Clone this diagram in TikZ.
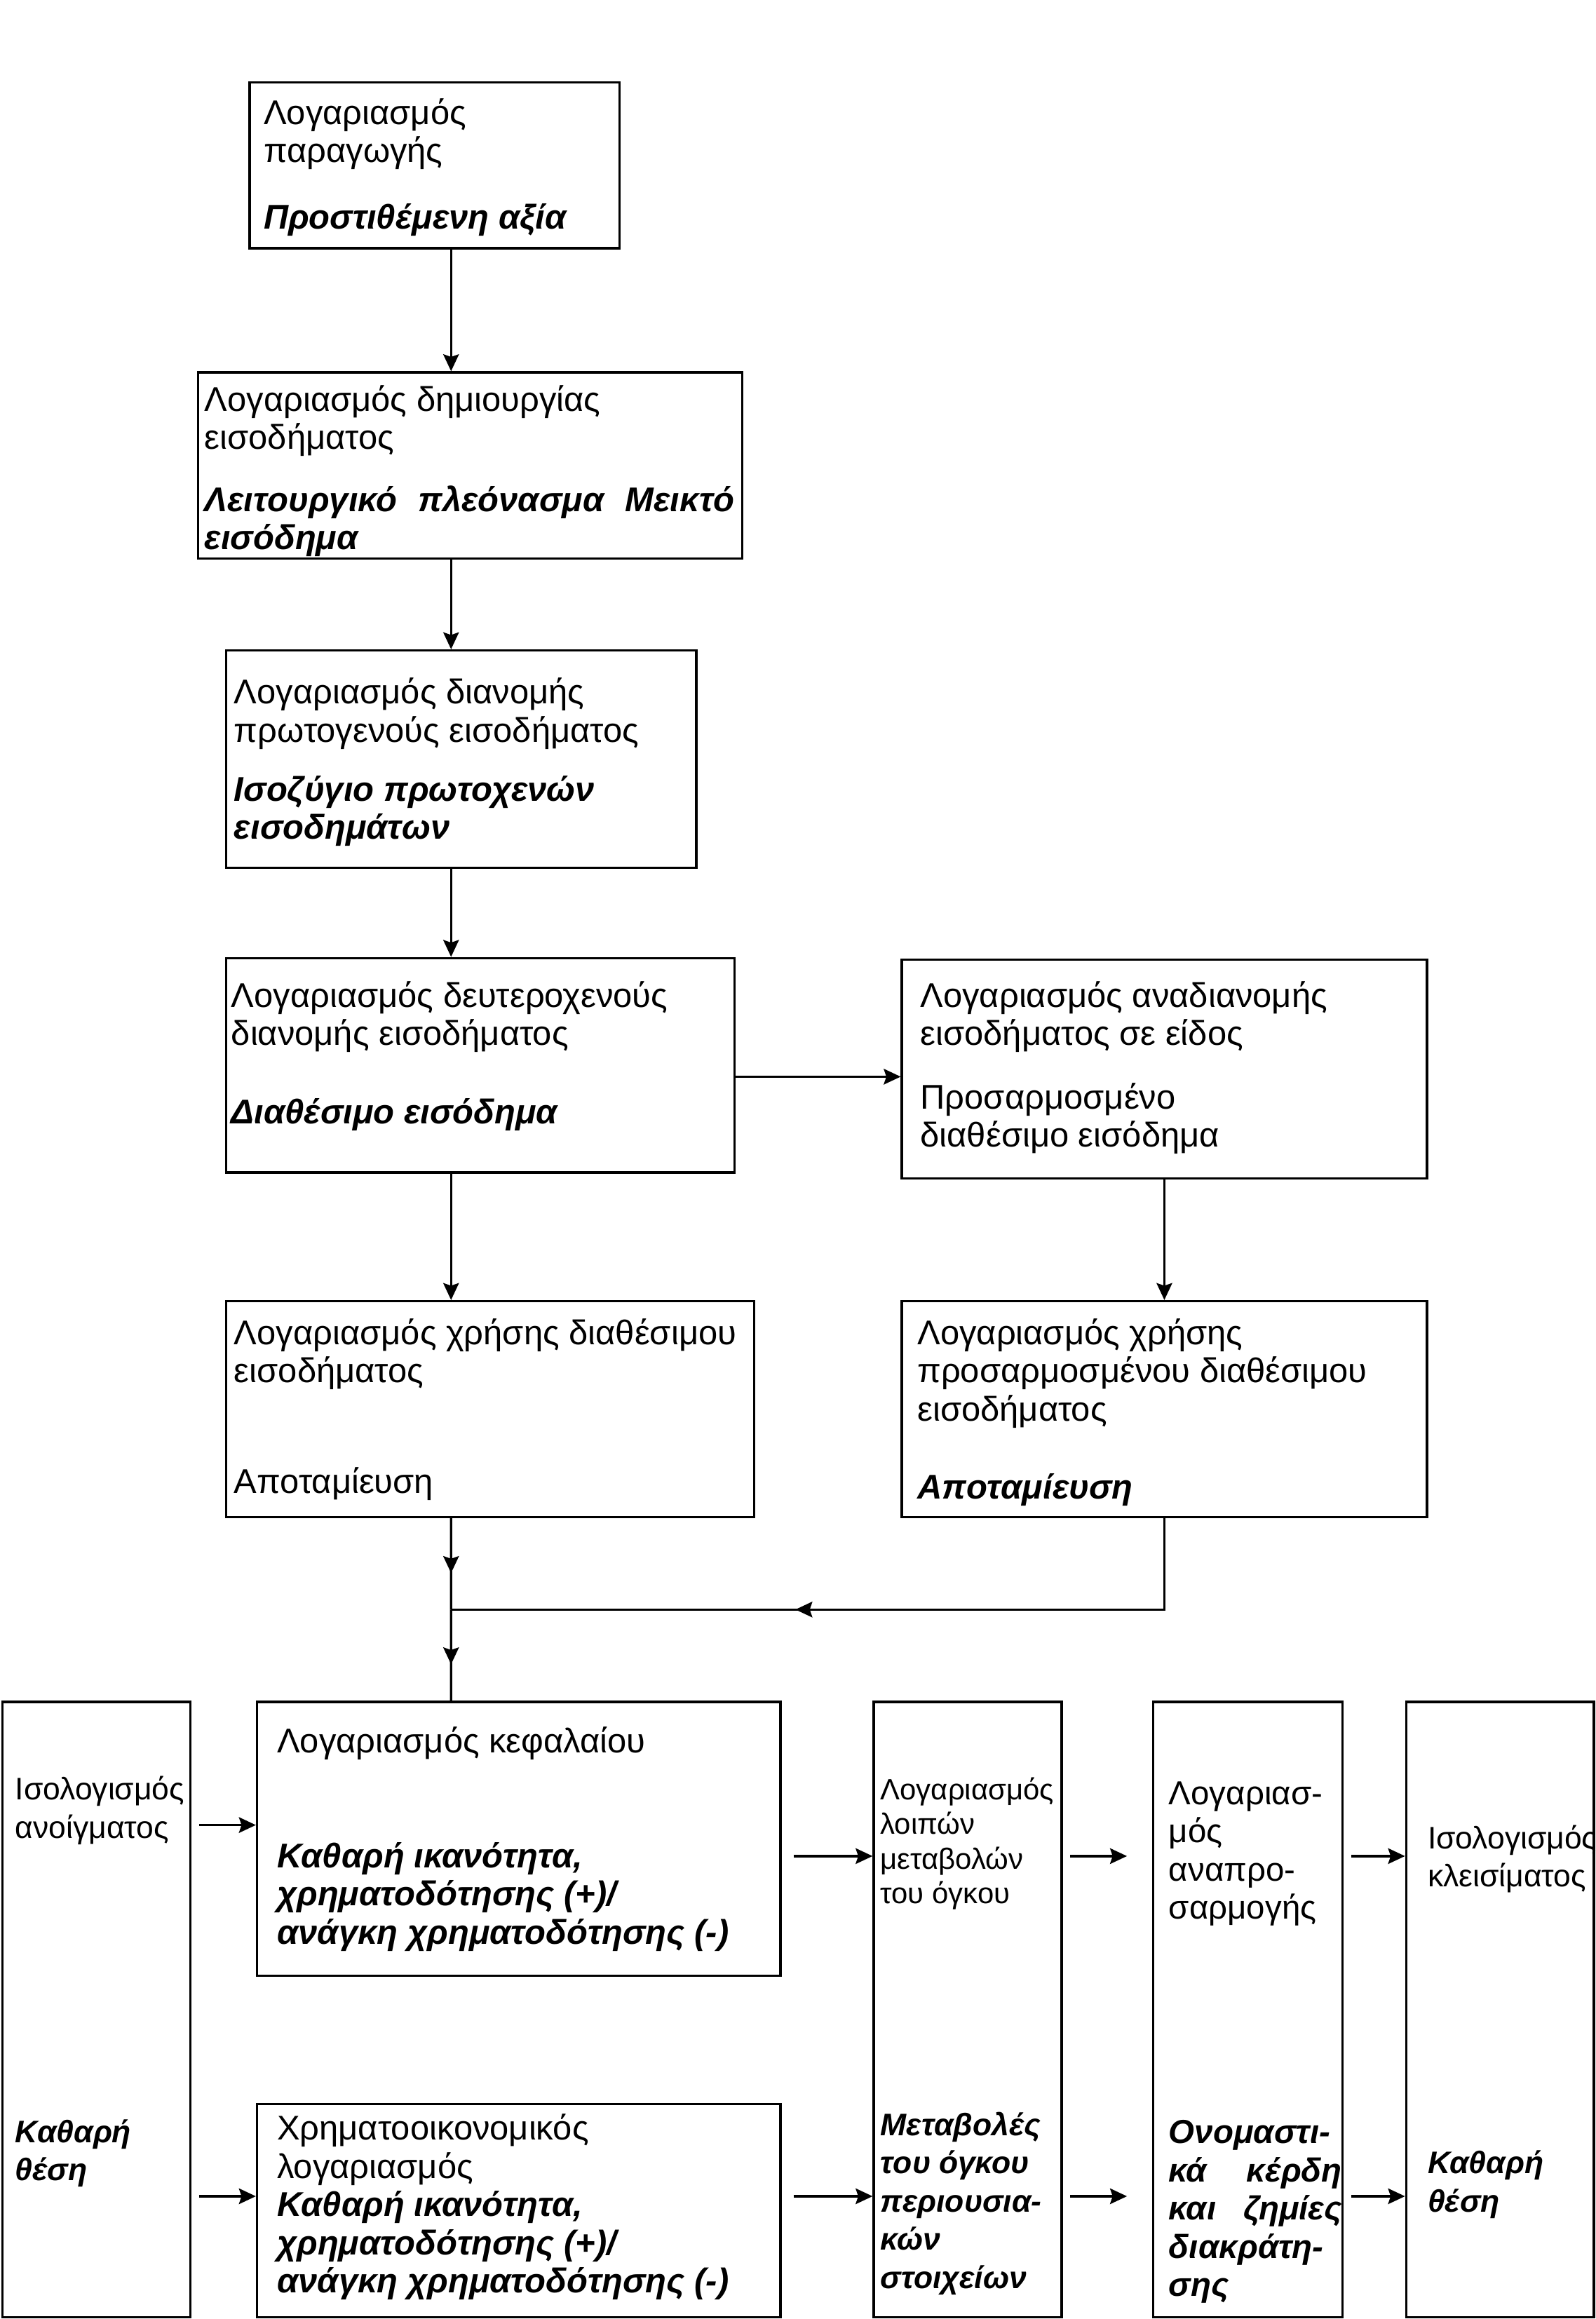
\documentclass[tikz,border=0pt]{standalone}
\usepackage{fontspec}
\setmainfont{Liberation Sans}
\usetikzlibrary{arrows.meta, calc, decorations.markings}

\newcommand{\balitem}[1]{\textbf{\textit{#1}}}
\newcommand{\smalltxt}{\fontsize{11.3}{14.7}\selectfont}

\begin{document}
\begin{tikzpicture}[
    >={Stealth[length=6.5pt, width=6pt, inset=1pt]},
    every node/.style={font=\fontsize{13.2}{14.7}\selectfont},
    account/.style={draw, line width=0.9pt, inner sep=0pt, anchor=north west},
    acc text/.style={anchor=base west, inner sep=0pt, align=justify},
    narrow/.style={font=\fontsize{12}{14.7}\selectfont},
    flow/.style={->, line width=0.9pt},
    mid arrow/.style={line width=0.9pt, postaction={decorate},
        decoration={markings, mark=at position #1 with {\arrow{>}}}}
]

    \useasboundingbox (0,0) rectangle (21.58,-31.36);

    % --- 1. CURRENT ACCOUNTS (LEFT COLUMN) ---
    \node[account, minimum width=5.00cm, minimum height=2.24cm] (prod) at (3.36,-1.10) {};
    \node[account, minimum width=7.36cm, minimum height=2.52cm] (gen) at (2.66,-5.02) {};
    \node[account, minimum width=6.36cm, minimum height=2.94cm] (prim) at (3.04,-8.78) {};
    \node[account, minimum width=6.88cm, minimum height=2.90cm] (sec) at (3.04,-12.94) {};
    \node[account, minimum width=7.14cm, minimum height=2.92cm] (use) at (3.04,-17.58) {};

    % --- 2. ADJUSTED INCOME (RIGHT COLUMN) ---
    \node[account, minimum width=7.10cm, minimum height=2.96cm] (kind) at (12.18,-12.96) {};
    \node[account, minimum width=7.10cm, minimum height=2.92cm] (adjuse) at (12.18,-17.58) {};

    % --- 3. ACCUMULATION AND BALANCE SHEETS (BOTTOM ROW) ---
    \node[account, minimum width=2.54cm, minimum height=8.32cm] (open) at (0.02,-23.00) {};
    \node[account, minimum width=7.08cm, minimum height=3.70cm] (cap) at (3.46,-23.00) {};
    \node[account, minimum width=7.08cm, minimum height=2.88cm] (fin) at (3.46,-28.44) {};
    \node[account, minimum width=2.54cm, minimum height=8.32cm] (other) at (11.80,-23.00) {};
    \node[account, minimum width=2.56cm, minimum height=8.32cm] (reval) at (15.58,-23.00) {};
    \node[account, minimum width=2.54cm, minimum height=8.32cm] (close) at (19.00,-23.00) {};

    % --- 4. TEXTS ---
    \node[acc text, text width=8cm] (prodT) at ([shift={(0.20,-0.58)}]prod.north west)
        {Λογαριασμός\\παραγωγής\\[0.38cm]\balitem{Προστιθέμενη αξία}};
    \node[acc text, text width=7.16cm] (genT) at ([shift={(0.10,-0.54)}]gen.north west)
        {Λογαριασμός δημιουργίας\\εισοδήματος\\[0.32cm]\balitem{Λειτουργικό\hfill πλεόνασμα\hfill Μεικτό\\εισόδημα}};
    \node[acc text, text width=8cm] (primT) at ([shift={(0.12,-0.74)}]prim.north west)
        {Λογαριασμός διανομής\\πρωτογενούς εισοδήματος\\[0.28cm]\balitem{Ισοζύγιο πρωτοχενών\\εισοδημάτων}};
    \node[acc text, text width=8cm] (secT) at ([shift={(0.08,-0.68)}]sec.north west)
        {Λογαριασμός δευτεροχενούς\\διανομής εισοδήματος\\[0.54cm]\balitem{Διαθέσιμο εισόδημα}};
    \node[acc text, text width=8cm] (kindT) at ([shift={(0.26,-0.66)}]kind.north west)
        {Λογαριασμός αναδιανομής\\εισοδήματος σε είδος\\[0.34cm]Προσαρμοσμένο\\διαθέσιμο εισόδημα};
    \node[acc text, text width=8cm] (useT) at ([shift={(0.12,-0.60)}]use.north west)
        {Λογαριασμός χρήσης διαθέσιμου\\εισοδήματος\\[0.98cm]Αποταμίευση};
    \node[acc text, text width=8cm] (adjuseT) at ([shift={(0.22,-0.60)}]adjuse.north west)
        {Λογαριασμός χρήσης\\προσαρμοσμένου διαθέσιμου\\εισοδήματος\\[0.54cm]\balitem{Αποταμίευση}};
    \node[acc text, text width=8cm] (capT) at ([shift={(0.28,-0.70)}]cap.north west)
        {Λογαριασμός κεφαλαίου\\[1.04cm]\balitem{Καθαρή ικανότητα,\\χρηματοδότησης (+)/\\ανάγκη χρηματοδότησης (-)}};
    \node[acc text, text width=8cm] (finT) at ([shift={(0.28,-0.50)}]fin.north west)
        {Χρηματοοικονομικός\\λογαριασμός\\\balitem{Καθαρή ικανότητα,\\χρηματοδότησης (+)/\\ανάγκη χρηματοδότησης (-)}};
    \node[acc text, narrow, text width=3cm] (openT) at ([shift={(0.18,-1.34)}]open.north west)
        {Ισολογισμός\\ανοίγματος\\[3.60cm]\balitem{Καθαρή\\θέση}};
    \node[acc text, narrow, text width=3cm] (otherT) at ([shift={(0.10,-1.34)}]other.north west)
        {{\smalltxt Λογαριασμός\\[-0.05cm]λοιπών\\[-0.05cm]μεταβολών\\[-0.05cm]του όγκου}\\[2.62cm]\balitem{Μεταβολές\\του όγκου\\περιουσια-\\κών\\στοιχείων}};
    \node[acc text, font=\fontsize{12.8}{14.7}\selectfont, text width=2.34cm] (revalT) at ([shift={(0.22,-1.40)}]reval.north west)
        {Λογαριασ-\\μός\\αναπρο-\\σαρμογής\\[2.52cm]\balitem{Ονομαστι-\\κά\hfill κέρδη\\και\hfill ζημίες\\διακράτη-\\σης}};
    \node[acc text, narrow, text width=3cm] (closeT) at ([shift={(0.30,-2.00)}]close.north west)
        {Ισολογισμός\\κλεισίματος\\[3.36cm]\balitem{Καθαρή\\θέση}};

    % --- 5. FLOWS DOWN THE SEQUENCE ---
    \coordinate (spine) at (6.10,0);
    \draw[flow] (prod.south -| spine) -- (gen.north -| spine);
    \draw[flow] (gen.south -| spine) -- (prim.north -| spine);
    \draw[flow] (prim.south -| spine) -- (sec.north -| spine);
    \draw[flow] (sec.south -| spine) -- (use.north -| spine);

    \coordinate (inkind) at (0,-14.56);
    \draw[flow] (sec.east |- inkind) -- (kind.west |- inkind);
    \draw[flow] (kind) -- (adjuse);

    % Saving joins before the capital account
    \coordinate (join) at ($(use.south -| spine)!0.5!(cap.north -| spine)$);
    \draw[mid arrow=0.6] (use.south -| spine) -- (join);
    \draw[mid arrow=0.6] (join) -- (cap.north -| spine);
    \draw[mid arrow=0.572] (adjuse.south) |- (join);

    % --- 6. FLOWS ALONG THE BOTTOM ROW ---
    \coordinate (inA) at (0,-24.68);
    \coordinate (rowA) at (0,-25.10);
    \coordinate (rowB) at (0,-29.70);
    \draw[flow, shorten <=0.1cm] (open.east |- inA) -- (cap.west |- inA);
    \draw[flow, shorten <=0.1cm] (open.east |- rowB) -- (fin.west |- rowB);
    \draw[flow, shorten <=0.16cm] (cap.east |- rowA) -- (other.west |- rowA);
    \draw[flow, shorten <=0.16cm] (fin.east |- rowB) -- (other.west |- rowB);
    \draw[flow, shorten <=0.1cm, shorten >=0.34cm] (other.east |- rowA) -- (reval.west |- rowA);
    \draw[flow, shorten <=0.1cm, shorten >=0.34cm] (other.east |- rowB) -- (reval.west |- rowB);
    \draw[flow, shorten <=0.1cm] (reval.east |- rowA) -- (close.west |- rowA);
    \draw[flow, shorten <=0.1cm] (reval.east |- rowB) -- (close.west |- rowB);

\end{tikzpicture}
\end{document}
